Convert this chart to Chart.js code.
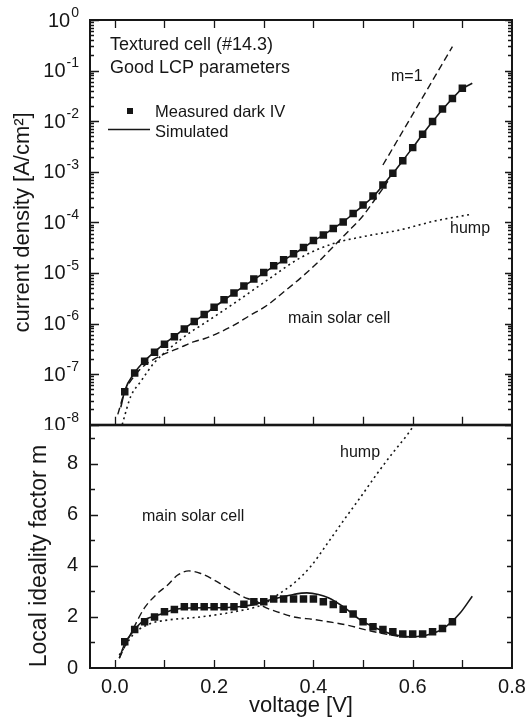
<!DOCTYPE html>
<html><head><meta charset="utf-8">
<script src="https://cdn.jsdelivr.net/npm/chart.js@4.4.0/dist/chart.umd.min.js"></script>
<style>
html,body{margin:0;padding:0;background:#fff;}
#wrap{position:relative;width:527px;height:727px;overflow:hidden;background:#fff;}
#c1{position:absolute;left:0;top:0;width:527px;height:430px;}
#c2{position:absolute;left:0;top:420px;width:527px;height:307px;}
</style></head><body>
<div id="wrap"><canvas id="c1" width="527" height="430"></canvas><canvas id="c2" width="527" height="307"></canvas></div>
<script>
// ---------- data: top panel (current density, A/cm^2) ----------
const measV = [0.02,0.04,0.06,0.08,0.10,0.12,0.14,0.16,0.18,0.20,0.22,0.24,0.26,0.28,0.30,0.32,0.34,0.36,0.38,0.40,0.42,0.44,0.46,0.48,0.50,0.52,0.54,0.56,0.58,0.60,0.62,0.64,0.66,0.68,0.70];
const measJ = [4.5e-8,1.05e-7,1.8e-7,2.7e-7,3.9e-7,5.5e-7,7.8e-7,1.1e-6,1.5e-6,2.1e-6,2.95e-6,4.0e-6,5.5e-6,7.6e-6,1.02e-5,1.38e-5,1.82e-5,2.4e-5,3.2e-5,4.4e-5,5.6e-5,7.6e-5,1.02e-4,1.5e-4,2.2e-4,3.3e-4,5.5e-4,9.3e-4,1.66e-3,3.0e-3,5.5e-3,9.8e-3,1.74e-2,2.8e-2,4.5e-2];
const simV = [0.012,0.02,0.04,0.06,0.08,0.10,0.12,0.14,0.16,0.18,0.20,0.22,0.24,0.26,0.28,0.30,0.32,0.34,0.36,0.38,0.40,0.42,0.44,0.46,0.48,0.50,0.52,0.54,0.56,0.58,0.60,0.62,0.64,0.66,0.68,0.70,0.72];
const simJ = [2.2e-8,4.7e-8,1.07e-7,1.82e-7,2.75e-7,4.0e-7,5.6e-7,7.9e-7,1.1e-6,1.5e-6,2.1e-6,2.9e-6,4.0e-6,5.5e-6,7.4e-6,1.0e-5,1.35e-5,1.78e-5,2.35e-5,3.15e-5,4.3e-5,5.6e-5,7.6e-5,1.02e-4,1.48e-4,2.15e-4,3.2e-4,5.4e-4,9.3e-4,1.66e-3,3.0e-3,5.5e-3,9.8e-3,1.7e-2,2.8e-2,4.4e-2,5.6e-2];
const mainV = [0.006,0.02,0.04,0.06,0.08,0.10,0.13,0.16,0.18,0.21,0.24,0.27,0.307,0.34,0.374,0.407,0.44,0.47,0.50,0.52,0.54,0.55];
const mainJ = [1.6e-8,4.5e-8,9.3e-8,1.5e-7,2.0e-7,2.5e-7,3.3e-7,4.4e-7,5.0e-7,6.6e-7,9.3e-7,1.4e-6,2.3e-6,4.2e-6,7.9e-6,1.55e-5,3.3e-5,6.6e-5,1.35e-4,2.5e-4,4.7e-4,6.5e-4];
const humpV = [0.012,0.016,0.032,0.052,0.079,0.11,0.153,0.173,0.24,0.307,0.374,0.44,0.508,0.575,0.642,0.719];
const humpJ = [7.9e-9,1.1e-8,3.6e-8,7.1e-8,1.66e-7,3.2e-7,6.8e-7,9.1e-7,2.5e-6,7.2e-6,2.0e-5,3.8e-5,5.4e-5,7.1e-5,1.05e-4,1.45e-4];
const m1V = [0.54,0.68];
const m1J = [1.36e-3,2.97e-1];
const logTicks = [0,-1,-2,-3,-4,-5,-6,-7,-8];

// ---------- data: bottom panel (local ideality factor m) ----------
const measMV = [0.02,0.04,0.06,0.08,0.10,0.12,0.14,0.16,0.18,0.20,0.22,0.24,0.26,0.28,0.30,0.32,0.34,0.36,0.38,0.40,0.42,0.44,0.46,0.48,0.50,0.52,0.54,0.56,0.58,0.60,0.62,0.64,0.66,0.68];
const measM  = [1.03,1.51,1.81,2.0,2.2,2.29,2.4,2.4,2.4,2.4,2.4,2.4,2.5,2.59,2.59,2.7,2.7,2.7,2.7,2.7,2.59,2.49,2.3,2.11,1.81,1.61,1.51,1.42,1.33,1.33,1.33,1.42,1.55,1.81];
const simMV = [0.009,0.02,0.039,0.059,0.075,0.092,0.12,0.15,0.20,0.25,0.28,0.30,0.33,0.36,0.387,0.41,0.43,0.46,0.495,0.528,0.56,0.595,0.629,0.662,0.695,0.72];
const simM  = [0.38,0.95,1.48,1.875,2.0,2.1,2.29,2.35,2.36,2.4,2.48,2.6,2.75,2.88,2.94,2.88,2.75,2.4,1.875,1.55,1.32,1.22,1.29,1.55,2.14,2.81];
const mainMV = [0.009,0.039,0.059,0.086,0.106,0.126,0.149,0.173,0.20,0.24,0.267,0.285,0.30,0.327,0.36,0.40,0.43,0.468,0.508,0.548,0.568,0.59];
const mainM  = [0.38,1.61,2.33,2.92,3.24,3.63,3.80,3.70,3.44,2.98,2.72,2.62,2.4,2.2,2.0,1.9,1.81,1.68,1.48,1.32,1.25,1.22];
const humpMV = [0.009,0.039,0.072,0.106,0.173,0.24,0.30,0.327,0.36,0.394,0.428,0.461,0.495,0.528,0.561,0.588,0.60,0.62];
const humpM  = [0.51,1.35,1.74,1.875,2.0,2.2,2.5,2.85,3.31,3.96,4.87,5.78,6.69,7.6,8.45,9.1,9.43,10.0];
const xTickVals = [0,0.1,0.2,0.3,0.4,0.5,0.6,0.7];

const FONT = "'Liberation Sans', Arial, Helvetica, sans-serif";
const INK = '#161616';
const pts = (xs, ys) => xs.map((x, i) => ({x, y: ys[i]}));

function drawTicksX(ctx, xs, area, top, bottom) {
  ctx.beginPath();
  xTickVals.forEach(v => {
    const px = Math.round(xs.getPixelForValue(v)) + 0.5;
    if (top) { ctx.moveTo(px, area.top); ctx.lineTo(px, area.top + 8); }
    if (bottom) { ctx.moveTo(px, area.bottom); ctx.lineTo(px, area.bottom - 8); }
  });
  ctx.stroke();
}

const topPlugin = {
  id: 'topDeco',
  afterDraw(chart) {
    const {ctx, chartArea: a, scales: {x: xs, y: ys}} = chart;
    ctx.save();
    ctx.strokeStyle = INK; ctx.fillStyle = INK;
    ctx.lineWidth = 1.3;
    drawTicksX(ctx, xs, a, true, true);
    ctx.beginPath();
    logTicks.forEach(e => {
      const py = Math.round(ys.getPixelForValue(Math.pow(10, e))) + 0.5;
      ctx.moveTo(a.left, py); ctx.lineTo(a.left + 9, py);
      ctx.moveTo(a.right, py); ctx.lineTo(a.right - 7, py);
      if (e < 0) {
        for (let k = 2; k <= 9; k++) {
          const qy = Math.round(ys.getPixelForValue(k * Math.pow(10, e))) + 0.5;
          ctx.moveTo(a.left, qy); ctx.lineTo(a.left + 4, qy);
          ctx.moveTo(a.right, qy); ctx.lineTo(a.right - 4, qy);
        }
      }
    });
    ctx.stroke();
    ctx.lineWidth = 2;
    ctx.strokeRect(a.left, a.top, a.right - a.left, a.bottom - a.top);
    ctx.textBaseline = 'middle'; ctx.textAlign = 'left';
    logTicks.forEach(e => {
      const py = ys.getPixelForValue(Math.pow(10, e));
      const exp = String(e);
      ctx.font = `14px ${FONT}`; const ew = ctx.measureText(exp).width;
      ctx.font = `20px ${FONT}`; const bw = ctx.measureText('10').width;
      const right = 79;
      ctx.fillText('10', right - ew - bw - 1, py + 1);
      ctx.font = `14px ${FONT}`;
      ctx.fillText(exp, right - ew, py - 7);
    });
    ctx.textBaseline = 'alphabetic';
    ctx.font = `18px ${FONT}`;
    ctx.fillText('Textured cell (#14.3)', 110, 50);
    ctx.fillText('Good LCP parameters', 110, 73);
    ctx.font = `16.5px ${FONT}`;
    ctx.fillRect(127, 108, 6, 6);
    ctx.fillText('Measured dark IV', 155, 117);
    ctx.lineWidth = 1.5;
    ctx.beginPath(); ctx.moveTo(108, 129.5); ctx.lineTo(150, 129.5); ctx.stroke();
    ctx.fillText('Simulated', 155, 137);
    ctx.font = `16px ${FONT}`;
    ctx.fillText('m=1', 391, 81);
    ctx.fillText('hump', 450, 233);
    ctx.fillText('main solar cell', 288, 323);
    ctx.restore();
  }
};

const botPlugin = {
  id: 'botDeco',
  afterDraw(chart) {
    const {ctx, chartArea: a, scales: {x: xs, y: ys}} = chart;
    ctx.save();
    ctx.strokeStyle = INK; ctx.fillStyle = INK;
    ctx.lineWidth = 1.3;
    drawTicksX(ctx, xs, a, false, true);
    ctx.beginPath();
    for (let m = 1; m <= 9; m++) {
      const py = Math.round(ys.getPixelForValue(m)) + 0.5;
      const len = (m % 2 === 0) ? 8 : 5;
      ctx.moveTo(a.left, py); ctx.lineTo(a.left + len, py);
      ctx.moveTo(a.right, py); ctx.lineTo(a.right - 5, py);
    }
    ctx.stroke();
    ctx.lineWidth = 2;
    ctx.strokeRect(a.left, a.top, a.right - a.left, a.bottom - a.top);
    ctx.font = `16px ${FONT}`;
    ctx.textBaseline = 'alphabetic'; ctx.textAlign = 'left';
    ctx.fillText('main solar cell', 142, 521 - 420);
    ctx.fillText('hump', 340, 457 - 420);
    // y-axis title
    ctx.save();
    ctx.translate(39.5, 556 - 420);
    ctx.rotate(-Math.PI / 2);
    ctx.font = `23px ${FONT}`;
    ctx.textAlign = 'center'; ctx.textBaseline = 'middle';
    ctx.fillText('Local ideality factor m', 0, 0);
    ctx.restore();
    ctx.restore();
  }
};

const common = {
  responsive: false, animation: false,
  plugins: {legend: {display: false}, tooltip: {enabled: false}},
  elements: {point: {radius: 0}}
};

function curve(data, dash, width) {
  return {data, borderColor: INK, borderWidth: width || 1.5, borderDash: dash || [], pointRadius: 0,
          fill: false, cubicInterpolationMode: 'monotone', showLine: true};
}
function squares(data, r) {
  return {data, showLine: false, pointStyle: 'rect', pointRadius: r, pointBackgroundColor: INK,
          pointBorderColor: INK, pointBorderWidth: 0, backgroundColor: INK, borderColor: INK};
}
function noPad(s) { s.paddingTop = 0; s.paddingBottom = 0; s.paddingLeft = 0; s.paddingRight = 0; }

new Chart(document.getElementById('c1'), {
  type: 'line',
  data: {datasets: [
    squares(pts(measV, measJ), 5.3),
    curve(pts(simV, simJ), [], 1.6),
    curve(pts(mainV, mainJ), [7, 4], 1.4),
    curve(pts(humpV, humpJ), [2, 3.5], 1.6),
    curve(pts(m1V, m1J), [7, 4], 1.4)
  ]},
  options: Object.assign({}, common, {
    layout: {padding: {left: 0, right: 15, top: 20, bottom: 5}},
    scales: {
      x: {type: 'linear', min: -0.05, max: 0.8, display: false},
      y: {type: 'logarithmic', min: 1e-8, max: 1,
          afterFit(s) { s.width = 90; noPad(s); },
          grid: {display: false, drawTicks: false}, border: {display: false},
          ticks: {display: false},
          title: {display: true, text: 'current density [A/cm²]', color: INK,
                  font: {family: FONT, size: 22}, padding: {top: 10, bottom: 0}}}
    }
  }),
  plugins: [topPlugin]
});

new Chart(document.getElementById('c2'), {
  type: 'line',
  data: {datasets: [
    squares(pts(measMV, measM), 5.3),
    curve(pts(simMV, simM), [], 1.6),
    curve(pts(mainMV, mainM), [7, 4], 1.4),
    curve(pts(humpMV, humpM), [2, 3.5], 1.6)
  ]},
  options: Object.assign({}, common, {
    layout: {padding: {left: 0, right: 15, top: 5, bottom: 0}},
    scales: {
      x: {type: 'linear', min: -0.05, max: 0.8,
          afterFit(s) { s.height = 59; noPad(s); },
          grid: {display: false, drawTicks: false}, border: {display: false},
          ticks: {stepSize: 0.1, includeBounds: false, autoSkip: false, maxRotation: 0, padding: 7,
                  color: INK, font: {family: FONT, size: 20},
                  callback: v => (Math.round(v * 10) % 2 === 0 ? Number(v).toFixed(1) : '')},
          title: {display: true, text: 'voltage [V]', color: INK,
                  font: {family: FONT, size: 22}, padding: {top: 0, bottom: 8}}},
      y: {type: 'linear', min: 0, max: 9.5,
          afterFit(s) { s.width = 90; noPad(s); },
          grid: {display: false, drawTicks: false}, border: {display: false},
          ticks: {stepSize: 2, includeBounds: false, padding: 12, color: INK,
                  font: {family: FONT, size: 20}},
          title: {display: false}}
    }
  }),
  plugins: [botPlugin]
});
</script>
</body></html>
